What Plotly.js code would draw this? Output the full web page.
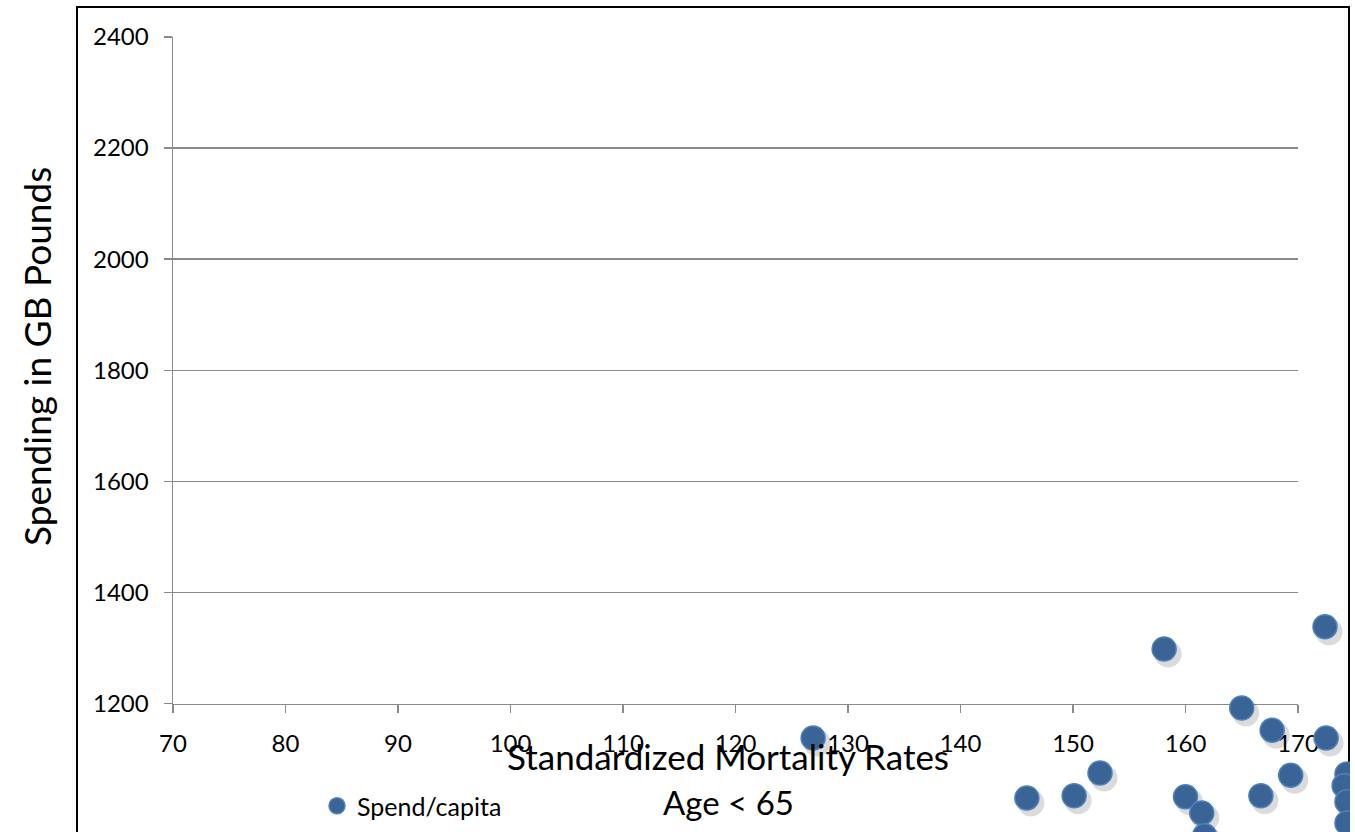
<!DOCTYPE html>
<html>
<head>
<meta charset="utf-8">
<script src="https://cdn.plot.ly/plotly-3.0.1.min.js"></script>
<style>
  html, body { margin: 0; padding: 0; background: #ffffff; overflow: hidden; }
  #chart { width: 1350px; height: 880px; }
</style>
</head>
<body>
<div id="chart"></div>
<script>
// Standardized mortality rates (age < 65) and spending per capita (GB pounds)
const mortality = [126.9, 158.1, 172.4, 165.0, 167.7, 172.5, 152.4, 145.9, 150.1, 160.0, 161.45, 161.7, 166.7, 169.35, 174.35, 174.1, 174.35, 174.35];
const spending  = [1138, 1298, 1338, 1192, 1152, 1138, 1075, 1030, 1034, 1032, 1003, 962, 1034, 1071, 1073, 1052, 1023, 985];
const seriesName = 'Spend/capita';
const xTickVals = [70, 80, 90, 100, 110, 120, 130, 140, 150, 160, 170];
const yTickVals = [1200, 1400, 1600, 1800, 2000, 2200, 2400];

const FONT = 'Lato, "Open Sans", sans-serif';
const GRID = '#8a8a8a';

// ---- geometry (px) ----
const FIG_W = 1350, FIG_H = 880;
const L = 173, T = 37;
const W = FIG_W - L, H = FIG_H - T;          // full drawing area
const axisW = 1125, axisH = 666.5;           // visible axes box (70..170, 1200..2400)
const xMin = 70, xMax = 170, yMin = 1200, yMax = 2400;
const pxPerX = axisW / (xMax - xMin);
const pxPerY = axisH / (yMax - yMin);
const xp = px => (px - L) / W;
const yp = py => (FIG_H - py) / H;

// data axes span the whole drawing area so points beyond the visible axes still show
const dataX = [xMin, xMin + W / pxPerX];
const dataY = [yMax - H / pxPerY, yMax];
const shX = 4 / pxPerX, shY = 5 / pxPerY;    // shadow offset (right, down)

const shadow = {
  x: mortality, y: spending, type: 'scatter', mode: 'markers',
  xaxis: 'x2', yaxis: 'y2', showlegend: false, hoverinfo: 'skip',
  cliponaxis: false,
  marker: { size: 27, color: 'rgba(0,0,0,0.14)', line: { width: 0 } }
};
const main = {
  x: mortality, y: spending, type: 'scatter', mode: 'markers',
  name: seriesName, xaxis: 'x3', yaxis: 'y3',
  cliponaxis: false,
  marker: { size: 24, color: '#3a6496', line: { color: '#4f81bd', width: 1.5 } }
};
// empty trace anchoring the visible axes
const frame = { x: [], y: [], type: 'scatter', mode: 'markers', xaxis: 'x', yaxis: 'y', showlegend: false, hoverinfo: 'skip' };

const hiddenAxis = { visible: false, fixedrange: true, domain: [0, 1] };

const layout = {
  width: FIG_W, height: FIG_H,
  margin: { l: L, r: 0, t: T, b: 0, pad: 0 },
  paper_bgcolor: '#ffffff', plot_bgcolor: 'rgba(0,0,0,0)',
  font: { family: FONT, color: '#000000' },
  showlegend: true,
  xaxis: {
    domain: [0, axisW / W], anchor: 'y', range: [xMin, xMax], tickvals: xTickVals,
    showgrid: false, zeroline: false, fixedrange: true,
    showline: true, linecolor: GRID, linewidth: 1.5,
    ticks: 'outside', ticklen: 8, tickwidth: 1.5, tickcolor: GRID,
    ticklabelstandoff: 10,
    tickfont: { family: FONT, size: 24, color: '#000' }
  },
  yaxis: {
    domain: [yp(T + axisH), 1], anchor: 'x', range: [yMin, yMax], tickvals: yTickVals,
    showgrid: true, gridcolor: GRID, gridwidth: 1.5, zeroline: false, fixedrange: true,
    showline: true, linecolor: GRID, linewidth: 1.5,
    ticks: 'outside', ticklen: 8, tickwidth: 1.5, tickcolor: GRID,
    ticklabelstandoff: 10,
    tickfont: { family: FONT, size: 24, color: '#000' }
  },
  xaxis2: Object.assign({}, hiddenAxis, { anchor: 'y2', range: [dataX[0] - shX, dataX[1] - shX] }),
  yaxis2: Object.assign({}, hiddenAxis, { anchor: 'x2', range: [dataY[0] + shY, dataY[1] + shY] }),
  xaxis3: Object.assign({}, hiddenAxis, { anchor: 'y3', range: dataX }),
  yaxis3: Object.assign({}, hiddenAxis, { anchor: 'x3', range: dataY }),
  legend: {
    x: xp(317), y: yp(806),
    xanchor: 'left', yanchor: 'middle',
    font: { family: FONT, size: 25, color: '#000' },
    bgcolor: 'rgba(0,0,0,0)', itemwidth: 30
  },
  annotations: [
    { text: 'Standardized Mortality Rates', xref: 'paper', yref: 'paper',
      x: xp(728), y: yp(756), xanchor: 'center', yanchor: 'middle',
      showarrow: false, font: { family: FONT, size: 35, color: '#000' } },
    { text: 'Age &lt; 65', xref: 'paper', yref: 'paper',
      x: xp(728), y: yp(802), xanchor: 'center', yanchor: 'middle',
      showarrow: false, font: { family: FONT, size: 33, color: '#000' } },
    { text: 'Spending in GB Pounds', xref: 'paper', yref: 'paper', textangle: -90,
      x: xp(36), y: yp(357), xanchor: 'center', yanchor: 'middle',
      showarrow: false, font: { family: FONT, size: 37, color: '#000' } }
  ],
  shapes: [
    { type: 'rect', xref: 'paper', yref: 'paper',
      x0: xp(77), x1: xp(1349), y0: yp(920), y1: yp(7),
      line: { color: '#000000', width: 2 }, fillcolor: 'rgba(0,0,0,0)', layer: 'below' }
  ]
};

Plotly.newPlot('chart', [frame, shadow, main], layout, { displayModeBar: false, staticPlot: true });
</script>
</body>
</html>
